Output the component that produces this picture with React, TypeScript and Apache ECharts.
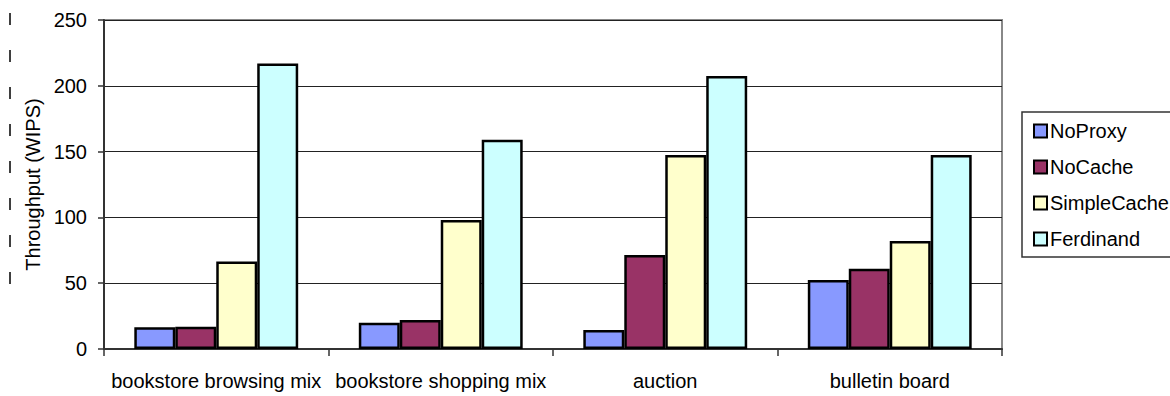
import React, { useEffect, useRef } from "react";
import * as echarts from "echarts";

const categories = [
  "bookstore browsing mix",
  "bookstore shopping mix",
  "auction",
  "bulletin board",
];
const seriesNames = ["NoProxy", "NoCache", "SimpleCache", "Ferdinand"];
const noProxy = [16.5, 20, 14.5, 52.5];
const noCache = [17, 22, 71.5, 61];
const simpleCache = [66.5, 98, 147.5, 82];
const ferdinand = [217, 159, 207.5, 147.5];
const seriesColors = ["#8899FF", "#993366", "#FFFFCC", "#CCFFFF"];
const yTicks = { min: 0, max: 250, interval: 50 };

const FONT = "'Liberation Sans', Arial, Helvetica, sans-serif";

export default function App() {
  const ref = useRef<HTMLDivElement>(null);

  useEffect(() => {
    document.body.style.margin = "0";
    if (!ref.current) return;
    const chart = echarts.init(ref.current, undefined, { renderer: "svg" });
    const values = [noProxy, noCache, simpleCache, ferdinand];

    chart.setOption({
      animation: false,
      textStyle: { fontFamily: FONT },
      grid: {
        left: 104,
        top: 20,
        right: 168,
        bottom: 47,
        show: true,
        borderColor: "#888",
        borderWidth: 2,
        backgroundColor: "transparent",
      },
      legend: {
        orient: "vertical",
        left: 1028,
        top: 116,
        itemWidth: 13,
        itemHeight: 13,
        itemGap: 16,
        icon: "rect",
        data: seriesNames,
        itemStyle: { borderColor: "#000", borderWidth: 2 },
        textStyle: {
          fontFamily: FONT,
          fontSize: 20,
          color: "#000",
          lineHeight: 20,
          padding: [0, 0, 0, -2],
        },
      },
      xAxis: {
        type: "category",
        data: categories,
        axisLine: { lineStyle: { color: "#333", width: 2 } },
        axisTick: { show: true, length: 7, lineStyle: { color: "#333", width: 1.5 } },
        axisLabel: {
          fontFamily: FONT,
          fontSize: 20,
          color: "#000",
          margin: 22,
          interval: 0,
        },
      },
      yAxis: {
        type: "value",
        min: yTicks.min,
        max: yTicks.max,
        interval: yTicks.interval,
        name: "Throughput (WIPS)",
        nameLocation: "middle",
        nameGap: 58,
        nameTextStyle: { fontFamily: FONT, fontSize: 20, color: "#000" },
        axisLine: { show: true, lineStyle: { color: "#333", width: 2 } },
        axisTick: { show: true, length: 6, lineStyle: { color: "#333", width: 1.5 } },
        axisLabel: { fontFamily: FONT, fontSize: 20, color: "#000", margin: 17 },
        splitLine: { lineStyle: { color: "#222", width: 1 } },
      },
      series: seriesNames.map((name, i) => ({
        name,
        type: "bar",
        data: values[i],
        barGap: "0%",
        barCategoryGap: "27%",
        itemStyle: { color: seriesColors[i], borderColor: "#000", borderWidth: 2.5 },
      })),
      graphic: [
        {
          type: "rect",
          shape: { x: 1022, y: 112, width: 160, height: 145 },
          style: { fill: "none", stroke: "#333", lineWidth: 1.5 },
          silent: true,
        },
        {
          type: "line",
          shape: { x1: 10, y1: 13, x2: 10, y2: 285 },
          style: { stroke: "#000", lineWidth: 1.5, lineDash: [12, 25] },
          silent: true,
        },
      ],
    });

    return () => chart.dispose();
  }, []);

  return <div ref={ref} style={{ width: 1170, height: 396 }} />;
}
